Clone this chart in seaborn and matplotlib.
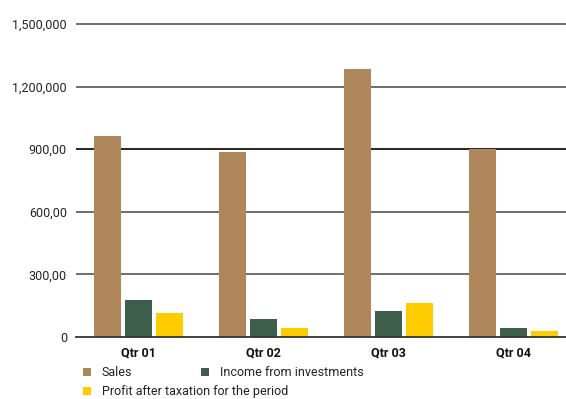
import matplotlib
matplotlib.use("Agg")
import matplotlib.pyplot as plt
import matplotlib.patches as mpatches
import seaborn as sns
import pandas as pd

quarters = ["Qtr 01", "Qtr 02", "Qtr 03", "Qtr 04"]
sales = [963000, 886000, 1284000, 900000]
income = [177000, 86000, 125000, 43000]
profit = [115000, 43000, 163000, 29000]
series_names = ["Sales", "Income from investments", "Profit after taxation for the period"]
colors = ["#B0875A", "#3D5E4A", "#FFCC00"]
y_ticks = [0, 300000, 600000, 900000, 1200000, 1500000]
y_labels = ["0", "300,00", "600,00", "900,00", "1,200,000", "1,500,000"]

rows = []
for name, vals in zip(series_names, [sales, income, profit]):
    for q, v in zip(quarters, vals):
        rows.append({"Quarter": q, "Series": name, "Value": v})
df = pd.DataFrame(rows)

sns.set_style("white")
plt.rcParams["font.family"] = ["Roboto", "DejaVu Sans"]

fig = plt.figure(figsize=(5.66, 3.99), dpi=100)
ax = fig.add_axes([76/566, 1-337/399, 1-76/566, (337-11.5)/399])

palette = dict(zip(series_names, colors))
sns.barplot(data=df, x="Quarter", y="Value", hue="Series", hue_order=series_names,
            palette=palette, width=0.744, gap=0.129, saturation=1, legend=False,
            linewidth=0, edgecolor="none", ax=ax)

ax.set_xlim(-0.5, -0.5 + 490/125)
ax.set_ylim(0, 1560000)
ax.set_yticks(y_ticks)
ax.set_yticklabels(y_labels, fontsize=9, color="#222222")
ax.set_xticks(range(len(quarters)))
ax.set_xticklabels(quarters, fontsize=9, fontweight="bold", color="#111111")
ax.set_xticks([-0.5, 0.5, 1.5, 2.5], minor=True)
ax.tick_params(axis="x", which="major", length=0, pad=7)
ax.tick_params(axis="x", which="minor", direction="in", length=5, width=1.2, color="#666666")
ax.tick_params(axis="y", length=0, pad=6.5)
ax.set_xlabel("")
ax.set_ylabel("")

ax.yaxis.grid(True, color="#555555", linewidth=1.2)
ax.set_axisbelow(True)
gl = ax.get_ygridlines()
gl[3].set_color("black")
gl[0].set_visible(False)

for s in ["top", "right", "left"]:
    ax.spines[s].set_visible(False)
ax.spines["bottom"].set_color("#333333")
ax.spines["bottom"].set_linewidth(1.3)

handles = [mpatches.Patch(color=c, label=n, linewidth=0) for c, n in zip(colors, series_names)]
common = dict(frameon=False, fontsize=9, handlelength=0.64, handleheight=0.64,
              handletextpad=0.88, borderpad=0, borderaxespad=0, labelcolor="#222222")
leg1 = fig.legend(handles=handles[:2], ncol=2, loc="center left",
                  bbox_to_anchor=(83/566, 1-373/399), columnspacing=5.5, **common)
leg2 = fig.legend(handles=handles[2:], loc="center left",
                  bbox_to_anchor=(83/566, 1-392/399), **common)

fig.savefig("out.png", dpi=100)
